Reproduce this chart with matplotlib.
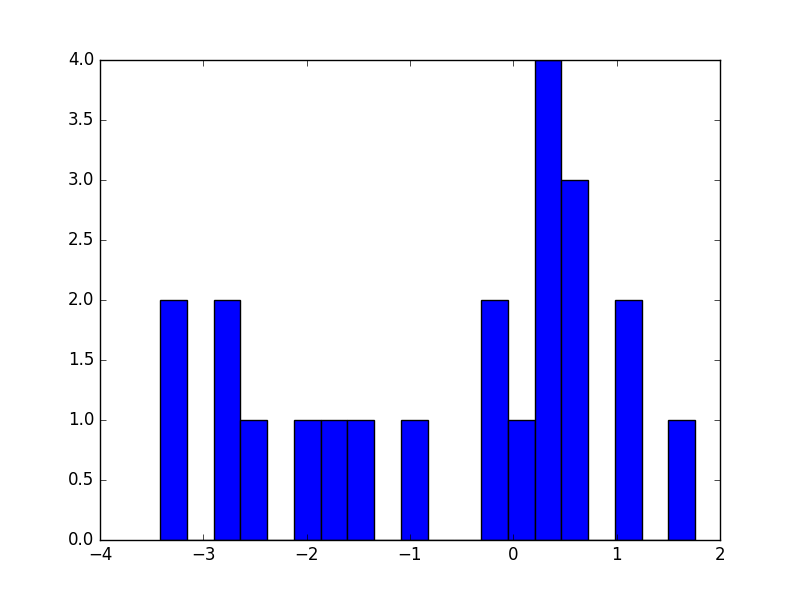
import matplotlib
matplotlib.use("Agg")
import matplotlib.pyplot as plt

# ======================================
# DATA
# ======================================

bin_start = -3.419
bin_width = 0.2589
counts = [2, 0, 2, 1, 0, 1, 1, 1, 0, 1, 0, 0, 2, 1, 4, 3, 0, 2, 0, 1]

bin_lefts = [bin_start + i * bin_width for i in range(len(counts))]

# ======================================
# PLOT
# ======================================

plt.style.use("classic")

fig, ax = plt.subplots(figsize=(8, 6), dpi=100)

ax.bar(
    bin_lefts,
    counts,
    width=bin_width,
    align="edge",
    color="b",
    edgecolor="k"
)

ax.set_xlim(-4, 2)
ax.set_ylim(0, 4)

plt.savefig("out.png", dpi=100)
plt.close()
